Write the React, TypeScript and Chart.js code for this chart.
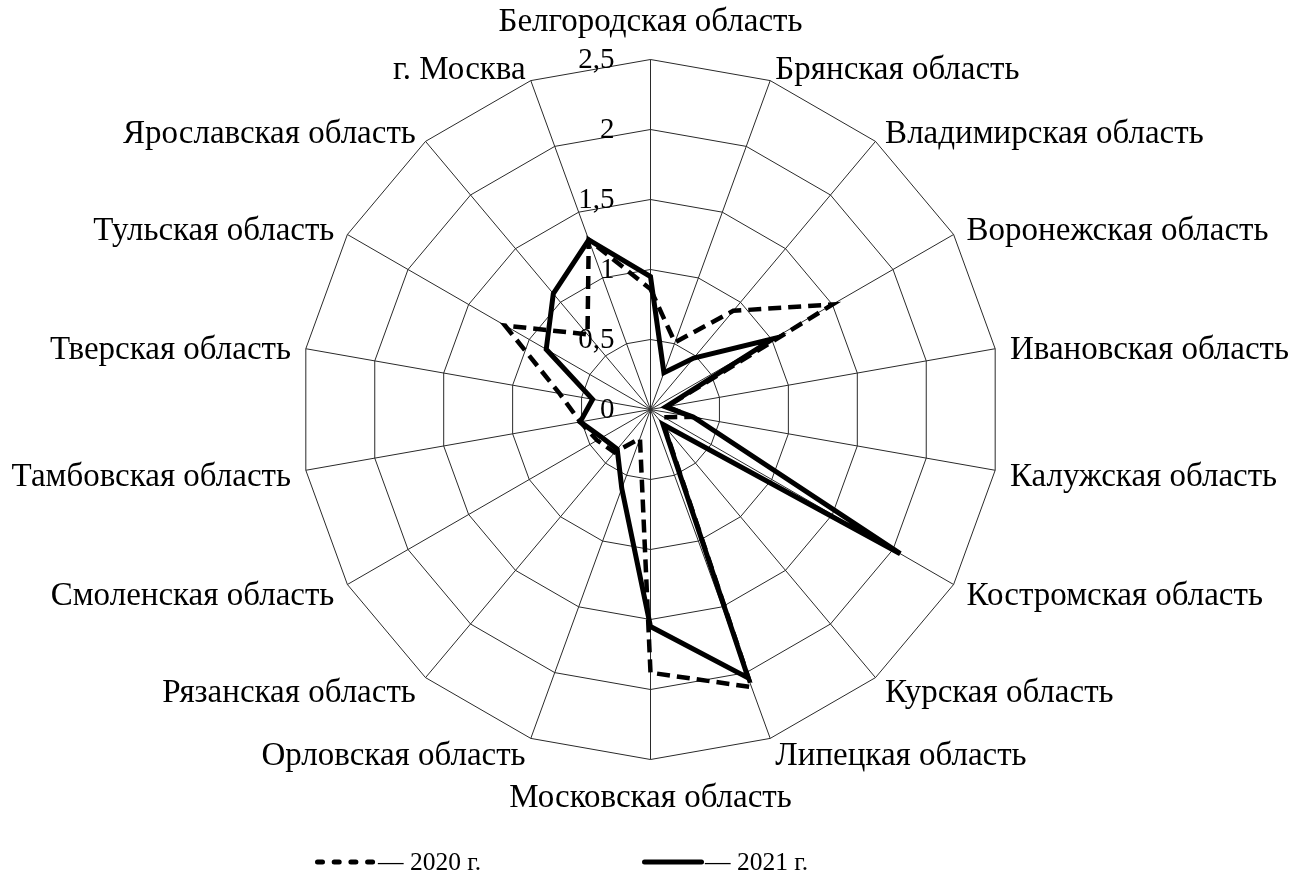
import React, { useEffect, useRef } from "react";
import { Chart, registerables } from "chart.js";

Chart.register(...registerables);

const categories: string[] = [
  "Белгородская область",
  "Брянская область",
  "Владимирская область",
  "Воронежская область",
  "Ивановская область",
  "Калужская область",
  "Костромская область",
  "Курская область",
  "Липецкая область",
  "Московская область",
  "Орловская область",
  "Рязанская область",
  "Смоленская область",
  "Тамбовская область",
  "Тверская область",
  "Тульская область",
  "Ярославская область",
  "г. Москва",
];

const values2020: number[] = [
  0.86, 0.51, 0.92, 1.5, 0.12, 0.3, 0.11, 0.15, 2.11, 1.88, 0.22, 0.4, 0.44,
  0.51, 0.66, 1.2, 0.7, 1.29,
];

const values2021: number[] = [
  0.95, 0.28, 0.48, 1.01, 0.11, 0.31, 2.06, 0.14, 2.04, 1.55, 0.6, 0.37, 0.4,
  0.51, 0.42, 0.86, 1.08, 1.29,
];

const seriesLabels: string[] = ["2020 г.", "2021 г."];

const scaleMin = 0;
const scaleMax = 2.5;
const scaleStep = 0.5;

const FONT_FAMILY = "'Liberation Serif', 'Times New Roman', serif";
const LABEL_SIZE = 33;
const TICK_SIZE = 29;
const LEGEND_SIZE = 25.5;

const CX = 650.5;
const CY = 409.5;
const RADIUS = 350;

const tickLabelsPlugin = {
  id: "tickLabels",
  beforeDatasetsDraw(chart: any) {
    const scale = chart.scales.r;
    const ctx = chart.ctx;
    ctx.save();
    ctx.font = `${TICK_SIZE}px ${FONT_FAMILY}`;
    ctx.fillStyle = "#000";
    ctx.textAlign = "right";
    ctx.textBaseline = "middle";
    scale.ticks.forEach((t: any) => {
      const d = scale.getDistanceFromCenterForValue(t.value);
      const label = String(t.value).replace(".", ",");
      ctx.fillText(label, scale.xCenter - 36, scale.yCenter - d + 1);
    });
    ctx.restore();
  },
};

const legendPlugin = {
  id: "customLegend",
  afterDraw(chart: any) {
    const ctx = chart.ctx;
    const y = 862;
    const starts = [315, 642];
    const lineLen = 62;
    ctx.save();
    chart.data.datasets.forEach((ds: any, i: number) => {
      const x0 = starts[i];
      ctx.beginPath();
      ctx.strokeStyle = "#000";
      ctx.lineWidth = 5;
      ctx.lineCap = "round";
      if (ds.borderDash && ds.borderDash.length) {
        ctx.setLineDash([5, 11.7]);
      } else {
        ctx.setLineDash([]);
      }
      ctx.moveTo(x0 + 2.5, y);
      ctx.lineTo(x0 + lineLen - 2.5, y);
      ctx.stroke();
      ctx.setLineDash([]);
      ctx.font = `${LEGEND_SIZE}px ${FONT_FAMILY}`;
      ctx.fillStyle = "#000";
      ctx.textAlign = "left";
      ctx.textBaseline = "middle";
      ctx.fillText("— " + ds.label, x0 + lineLen + 1, y + 1);
    });
    ctx.restore();
  },
};

function placeScale(scale: any) {
  scale.xCenter = CX;
  scale.yCenter = CY;
  scale.drawingArea = RADIUS;
  const n = scale._pointLabels.length;
  const lineHeight = LABEL_SIZE * 1.2;
  const ctx = scale.ctx;
  ctx.save();
  ctx.font = `${LABEL_SIZE}px ${FONT_FAMILY}`;
  scale._pointLabelItems = scale._pointLabels.map((label: string, i: number) => {
    const deg = Math.round((i * 360) / n);
    const p = scale.getPointPosition(i, RADIUS + 15);
    const w = ctx.measureText(label).width;
    let align = "left";
    let cy = p.y + 4;
    if (deg === 0) {
      align = "center";
      cy = p.y - 22;
    } else if (deg === 180) {
      align = "center";
      cy = p.y + 24;
    } else if (deg > 180) {
      align = "right";
    }
    const top = cy - lineHeight / 2;
    const left = align === "left" ? p.x : align === "right" ? p.x - w : p.x - w / 2;
    return {
      visible: true,
      x: p.x,
      y: top,
      textAlign: align,
      left,
      top,
      right: left + w,
      bottom: top + lineHeight,
    };
  });
  ctx.restore();
}

export default function App() {
  const canvasRef = useRef<HTMLCanvasElement | null>(null);

  useEffect(() => {
    if (!canvasRef.current) return;
    const chart = new Chart(canvasRef.current, {
      type: "radar",
      data: {
        labels: categories,
        datasets: [
          {
            label: seriesLabels[0],
            data: values2020,
            borderColor: "#000",
            borderWidth: 4.5,
            borderDash: [13, 7],
            fill: false,
            pointRadius: 0,
            pointHoverRadius: 0,
            tension: 0,
            order: 1,
          },
          {
            label: seriesLabels[1],
            data: values2021,
            borderColor: "#000",
            borderWidth: 5,
            fill: false,
            pointRadius: 0,
            pointHoverRadius: 0,
            tension: 0,
            order: 0,
          },
        ],
      },
      options: {
        responsive: false,
        animation: false,
        devicePixelRatio: 1,
        layout: { padding: 0 },
        plugins: {
          legend: { display: false },
          tooltip: { enabled: false },
          title: { display: false },
        },
        elements: {
          line: { borderJoinStyle: "miter", borderCapStyle: "butt" },
        },
        scales: {
          r: {
            min: scaleMin,
            max: scaleMax,
            beginAtZero: true,
            ticks: { stepSize: scaleStep, display: false },
            grid: { circular: false, color: "#2a2a2a", lineWidth: 1 },
            angleLines: { display: true, color: "#2a2a2a", lineWidth: 1 },
            pointLabels: {
              display: true,
              color: "#000",
              font: { family: FONT_FAMILY, size: LABEL_SIZE },
              padding: 15,
            },
            afterFit: (scale: any) => placeScale(scale),
          },
        },
      },
      plugins: [tickLabelsPlugin, legendPlugin],
    });
    return () => chart.destroy();
  }, []);

  return (
    <div style={{ position: "fixed", left: 0, top: 0, width: 1290, height: 883, background: "#fff" }}>
      <canvas ref={canvasRef} width={1290} height={883} style={{ display: "block" }} />
    </div>
  );
}
